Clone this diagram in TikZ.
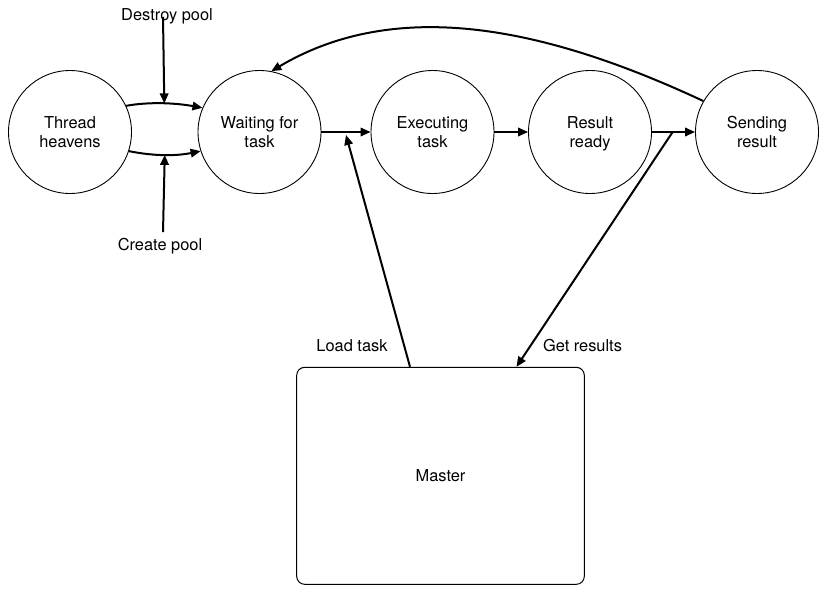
\documentclass[tikz,border=0pt]{standalone}
\usepackage{fontspec}
\setmainfont{TeX Gyre Heros}
\usetikzlibrary{arrows.meta,calc}
\begin{document}
\begin{tikzpicture}[x=1pt,y=-1pt,
  every node/.style={font=\fontsize{16.4}{18.3}\selectfont},
  state/.style={circle,draw,line width=0.9pt,minimum size=123pt,inner sep=0pt,align=center,text depth=0pt},
  box/.style={draw,line width=1pt,rounded corners=8pt,minimum width=287.6pt,minimum height=217pt,inner sep=0pt},
  conn/.style={line width=2pt,-{Triangle[length=10pt,width=8.5pt]}},
  lbl/.style={anchor=base,inner sep=0pt}]
\useasboundingbox (0,0) rectangle (824,589);

\node[state] (th) at (70,132) {Thread\\heavens};
\node[state] (wt) at (259.5,132) {Waiting for\\task};
\node[state] (ex) at (432.5,132) {Executing\\task};
\node[state] (rr) at (590,132) {Result\\ready};
\node[state] (sr) at (757,132) {Sending\\result};
\node[box] (ms) at (440.5,475.8) {Master};

\node[lbl] (dp) at (167,20.5) {Destroy pool};
\node[lbl] (cp) at (160,250.7) {Create pool};
\node[lbl] (lt) at (352,351.7) {Load task};
\node[lbl] (gr) at (582.5,351.7) {Get results};

\draw[conn] (th.25) .. controls +(25,-4.5) and +(-25,-4.5) .. coordinate[pos=0.5] (up) (wt.157);
\draw[conn] (th.-18.5) .. controls +(25,5) and +(-25,5) .. coordinate[pos=0.5] (lo) (wt.198);

\draw[conn] (wt) -- coordinate[pos=0.5] (we) (ex);
\draw[conn] (ex) -- (rr);
\draw[conn] (rr) -- coordinate[pos=0.48] (rs) (sr);

\draw[conn] (sr.150) .. controls +(-150,-70) and +(130,-77) .. (wt.79);

\draw[conn] ($(dp.base)+(-4,-3.5)$) -- (up);
\draw[conn] ($(cp.base)+(3,-18.5)$) -- (lo);

\draw[conn] ($(ms.north)+(-30.5,0)$) -- ($(we)+(0,3)$);
\draw[conn] (rs) -- ($(ms.north)+(76,0)$);
\end{tikzpicture}
\end{document}
